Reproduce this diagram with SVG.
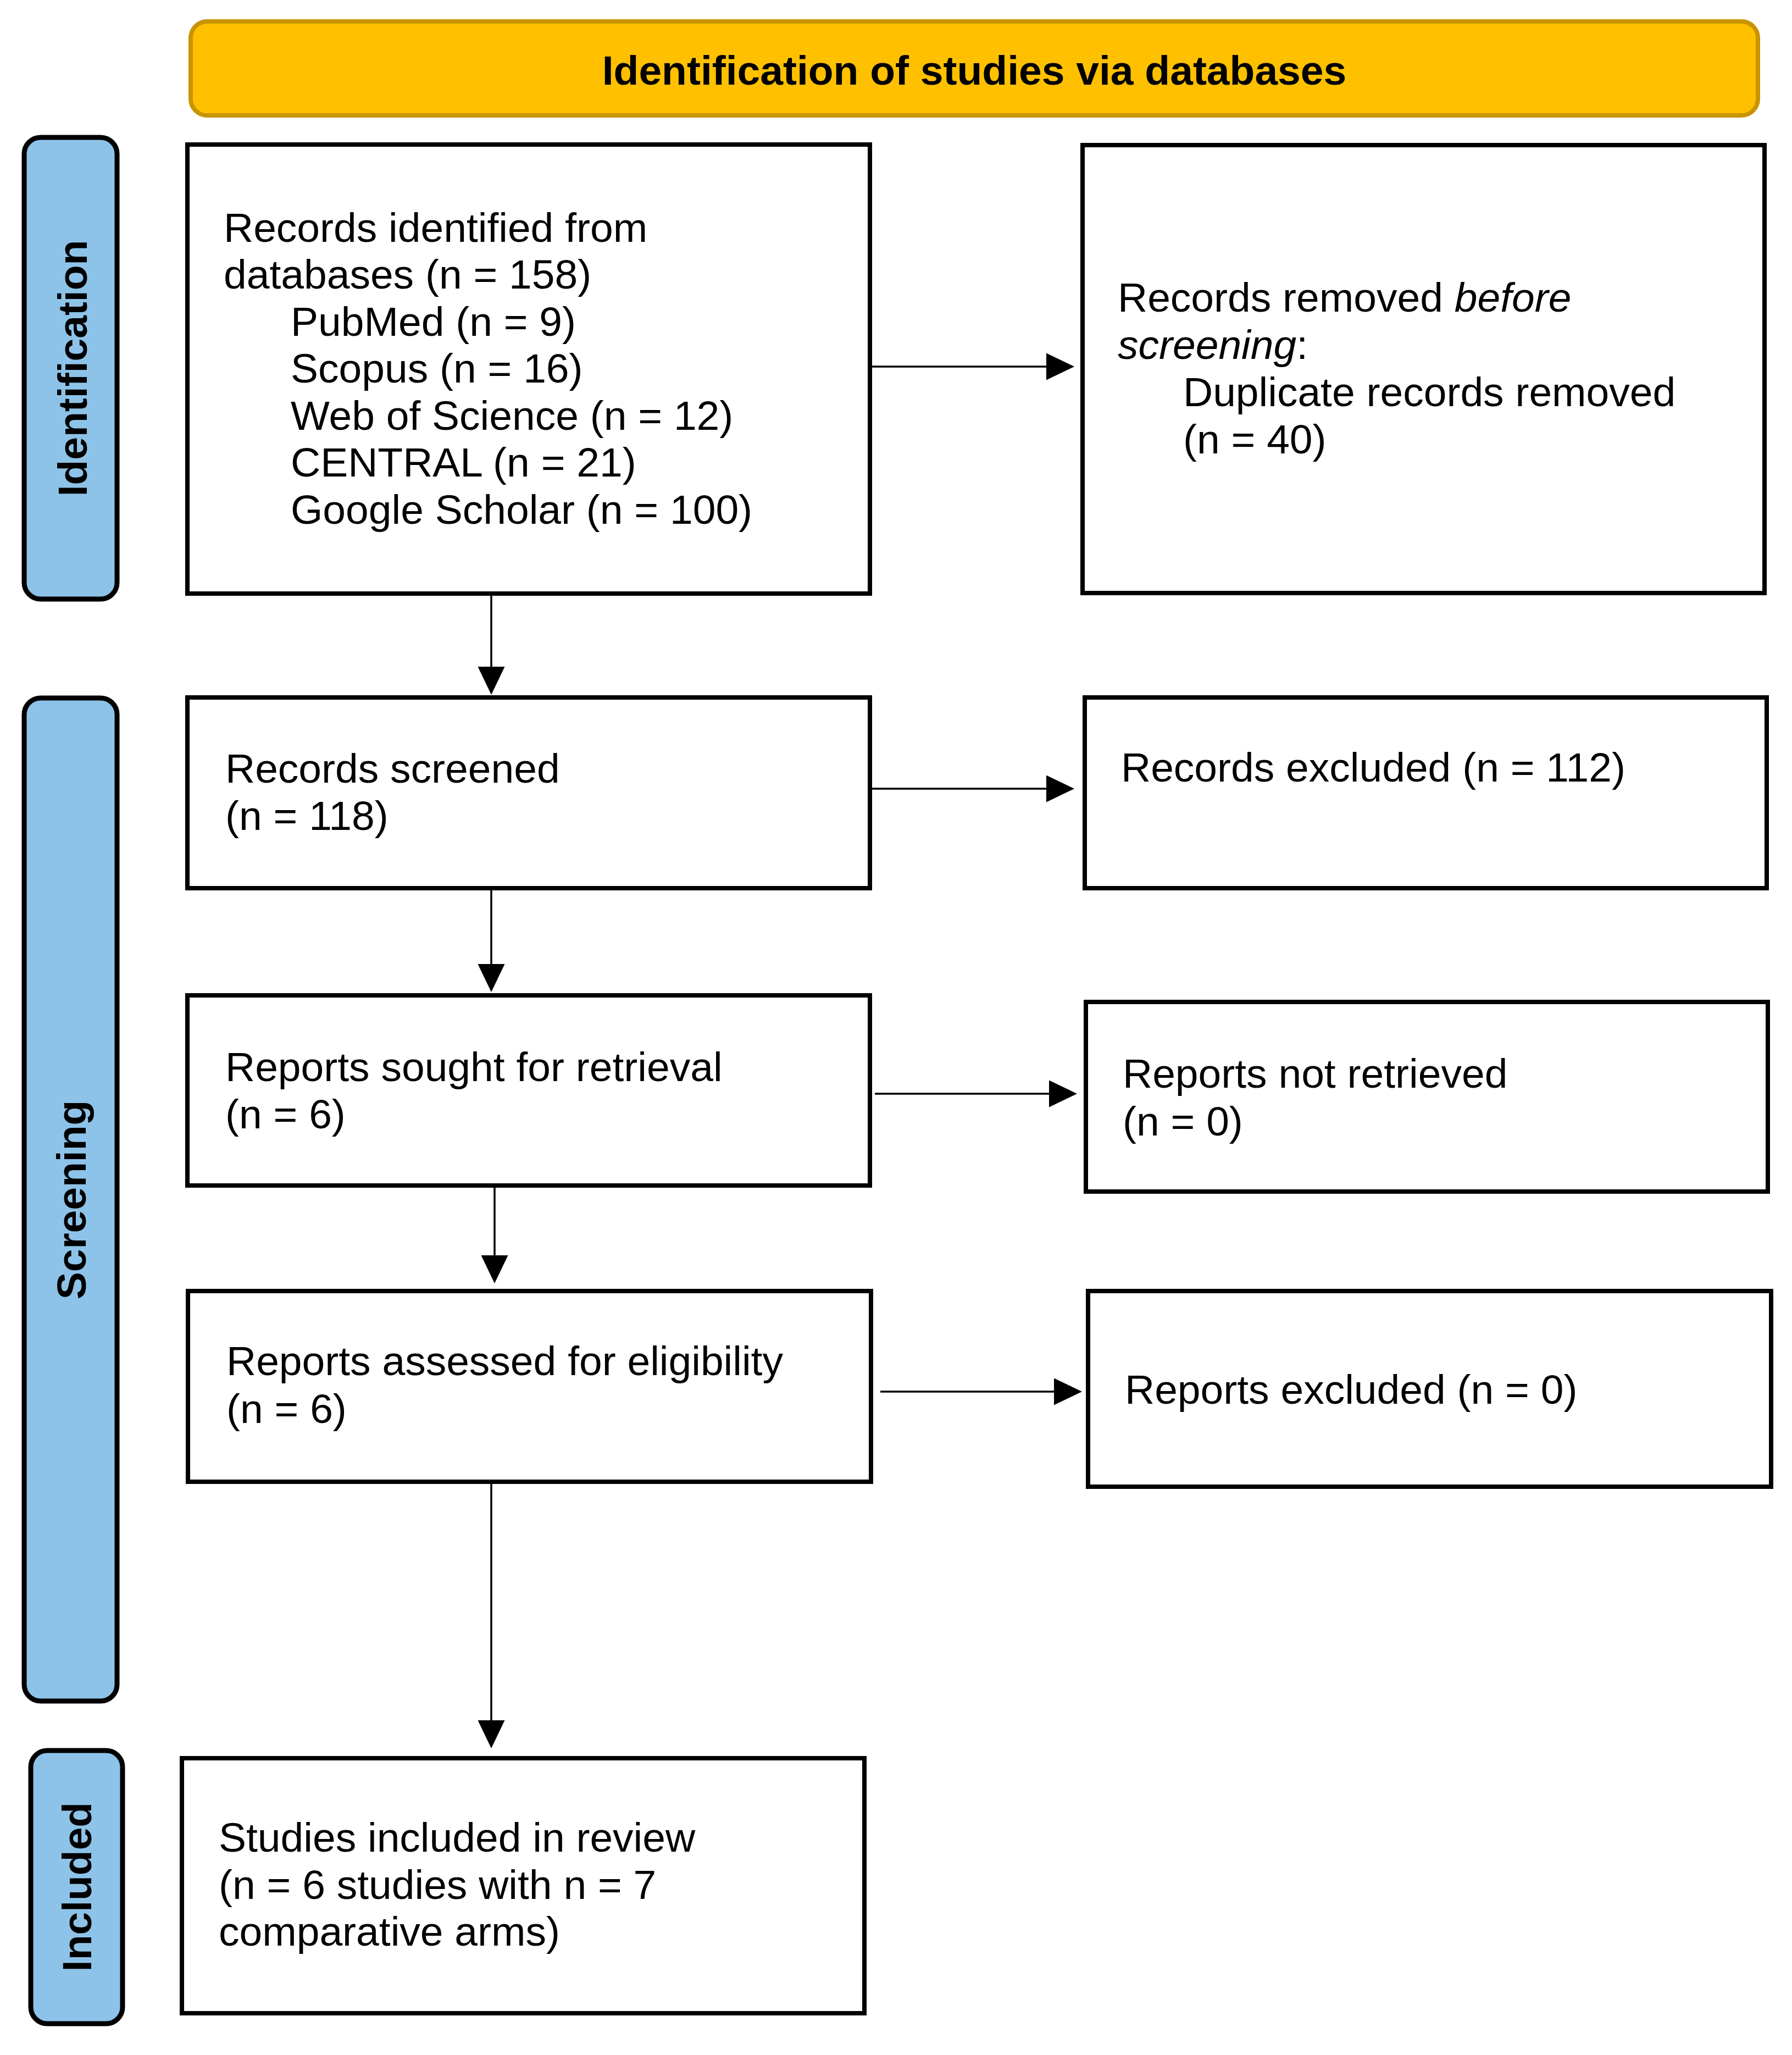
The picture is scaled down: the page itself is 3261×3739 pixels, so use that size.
<svg xmlns="http://www.w3.org/2000/svg" width="3261" height="3739" viewBox="0 0 3261 3739">
<style>
.box{fill:#ffffff;stroke:#000000;stroke-width:8}
.side{fill:#8DC3E8;stroke:#000000;stroke-width:9}
.head{fill:#FFC000;stroke:#C99400;stroke-width:8}
.t{font-family:"Liberation Sans",Arial,sans-serif;font-size:75px;fill:#000000}
.b{font-family:"Liberation Sans",Arial,sans-serif;font-size:75px;font-weight:bold;fill:#000000}
.conn{stroke:#000000;stroke-width:3.5;fill:none}
</style>
<defs>
<marker id="ah" markerUnits="userSpaceOnUse" markerWidth="51" markerHeight="49" refX="31" refY="24.5" orient="auto">
<path d="M0,0 L51,24.5 L0,49 Z" fill="#000000"/>
</marker>
</defs>
<rect x="0" y="0" width="3261" height="3739" fill="#ffffff"/>
<g id="header">
<rect class="head" x="347" y="39" width="2852" height="171" rx="30" ry="30"/>
<text class="b" x="1773" y="154" text-anchor="middle">Identification of studies via databases</text>
</g>
<g id="label-identification">
<rect class="side" x="44" y="250" width="169" height="840" rx="30" ry="30"/>
<text class="b" transform="translate(158,670) rotate(-90)" text-anchor="middle">Identification</text>
</g>
<g id="label-screening">
<rect class="side" x="44" y="1270" width="169" height="1825" rx="30" ry="30"/>
<text class="b" transform="translate(156,2183) rotate(-90)" text-anchor="middle">Screening</text>
</g>
<g id="label-included">
<rect class="side" x="56" y="3185" width="167" height="497" rx="30" ry="30"/>
<text class="b" transform="translate(166,3433) rotate(-90)" text-anchor="middle">Included</text>
</g>
<g id="records-identified">
<rect class="box" x="341" y="263" width="1242" height="817"/>
<text class="t" x="407" y="440">Records identified from</text>
<text class="t" x="407" y="525">databases (n = 158)</text>
<text class="t" x="529" y="611">PubMed (n = 9)</text>
<text class="t" x="529" y="696">Scopus (n = 16)</text>
<text class="t" x="529" y="782">Web of Science (n = 12)</text>
<text class="t" x="529" y="867">CENTRAL (n = 21)</text>
<text class="t" x="529" y="953">Google Scholar (n = 100)</text>
</g>
<g id="records-removed">
<rect class="box" x="1970" y="264" width="1241" height="815"/>
<text class="t" x="2034" y="567">Records removed <tspan font-style="italic">before</tspan></text>
<text class="t" x="2034" y="653"><tspan font-style="italic">screening</tspan>:</text>
<text class="t" x="2153" y="739">Duplicate records removed</text>
<text class="t" x="2153" y="825">(n = 40)</text>
</g>
<g id="records-screened">
<rect class="box" x="341" y="1269" width="1242" height="347"/>
<text class="t" x="410" y="1424">Records screened</text>
<text class="t" x="410" y="1510">(n = 118)</text>
</g>
<g id="records-excluded">
<rect class="box" x="1974" y="1269" width="1241" height="347"/>
<text class="t" x="2040" y="1422">Records excluded (n = 112)</text>
</g>
<g id="reports-sought">
<rect class="box" x="341" y="1811" width="1242" height="346"/>
<text class="t" x="410" y="1967">Reports sought for retrieval</text>
<text class="t" x="410" y="2053">(n = 6)</text>
</g>
<g id="reports-not-retrieved">
<rect class="box" x="1976" y="1823" width="1241" height="345"/>
<text class="t" x="2043" y="1979">Reports not retrieved</text>
<text class="t" x="2043" y="2066">(n = 0)</text>
</g>
<g id="reports-assessed">
<rect class="box" x="342" y="2349" width="1243" height="347"/>
<text class="t" x="412" y="2502">Reports assessed for eligibility</text>
<text class="t" x="412" y="2589">(n = 6)</text>
</g>
<g id="reports-excluded">
<rect class="box" x="1980" y="2349" width="1243" height="356"/>
<text class="t" x="2047" y="2554">Reports excluded (n = 0)</text>
</g>
<g id="studies-included">
<rect class="box" x="331" y="3199" width="1242" height="464"/>
<text class="t" x="398" y="3369">Studies included in review</text>
<text class="t" x="398" y="3455">(n = 6 studies with n = 7</text>
<text class="t" x="398" y="3540">comparative arms)</text>
</g>
<g id="connectors">
<line class="conn" x1="1583" y1="667" x2="1935" y2="667" marker-end="url(#ah)"/>
<line class="conn" x1="1583" y1="1435" x2="1935" y2="1435" marker-end="url(#ah)"/>
<line class="conn" x1="1592" y1="1990" x2="1940" y2="1990" marker-end="url(#ah)"/>
<line class="conn" x1="1602" y1="2532" x2="1949" y2="2532" marker-end="url(#ah)"/>
<line class="conn" x1="894" y1="1080" x2="894" y2="1244" marker-end="url(#ah)"/>
<line class="conn" x1="894" y1="1616" x2="894" y2="1785" marker-end="url(#ah)"/>
<line class="conn" x1="900" y1="2157" x2="900" y2="2315" marker-end="url(#ah)"/>
<line class="conn" x1="894" y1="2696" x2="894" y2="3161" marker-end="url(#ah)"/>
</g>
</svg>
